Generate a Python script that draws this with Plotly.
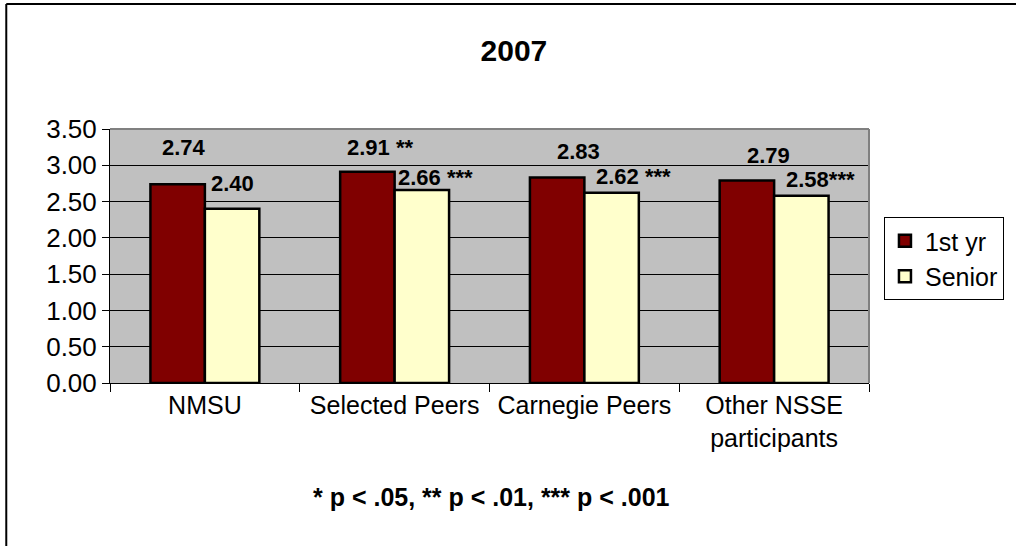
import plotly.graph_objects as go

# ---- data ----
categories = ["NMSU", "Selected Peers", "Carnegie Peers", "Other NSSE participants"]
tick_labels = ["NMSU", "Selected Peers", "Carnegie Peers", "Other NSSE<br>participants"]
first_yr = [2.74, 2.91, 2.83, 2.79]
senior = [2.40, 2.66, 2.62, 2.58]
first_sig = ["", "**", "", ""]
senior_sig = ["", "***", "***", "***"]
title_text = "2007"
footnote = "* p < .05, ** p < .01, *** p < .001"

# ---- style / layout (pixels) ----
W, H = 1016, 546
L, R, T, B = 110, 145, 129, 163
PW, PH = W - L - R, H - T - B

# label placement (pixel offsets: x from category centre to label's left edge, y above bar top)
first_dx = [-45, -50, -29, -29]
first_dy = [37, 24, 26, 25]
first_sep = ["", "\u00a0", "", ""]
senior_dx = [4, 1, 10, 10]
senior_dy = [25, 12, 16, 16]
senior_sep = ["", "\u00a0", "\u00a0", ""]

MAROON = "#800000"
CREAM = "#FFFFCC"
PLOT_BG = "#C0C0C0"
FONT = "Liberation Sans, Arial, sans-serif"


def px_x(p):
    return (p - L) / PW


def px_y(p):
    return (H - B - p) / PH


fig = go.Figure()
fig.add_trace(go.Bar(
    name="1st yr", x=categories, y=first_yr,
    marker=dict(color=MAROON, line=dict(color="black", width=2.5)),
))
fig.add_trace(go.Bar(
    name="Senior", x=categories, y=senior,
    marker=dict(color=CREAM, line=dict(color="black", width=2.5)),
))

annotations = []
for i, c in enumerate(categories):
    annotations.append(dict(
        x=c, y=first_yr[i], xref="x", yref="y",
        text=f"<b>{first_yr[i]:.2f}{first_sep[i]}{first_sig[i]}</b>",
        xanchor="left", yanchor="middle", showarrow=False,
        xshift=first_dx[i], yshift=first_dy[i],
        font=dict(size=22, color="black", family=FONT),
    ))
    annotations.append(dict(
        x=c, y=senior[i], xref="x", yref="y",
        text=f"<b>{senior[i]:.2f}{senior_sep[i]}{senior_sig[i]}</b>",
        xanchor="left", yanchor="middle", showarrow=False,
        xshift=senior_dx[i], yshift=senior_dy[i],
        font=dict(size=22, color="black", family=FONT),
    ))

annotations.append(dict(
    x=px_x(493), y=px_y(497), xref="paper", yref="paper",
    text=f"<b>{footnote}</b>", showarrow=False,
    xanchor="center", yanchor="middle",
    font=dict(size=25, color="black", family=FONT),
))

shapes = [
    # plot-area border (top and right, grey)
    dict(type="line", xref="paper", yref="paper", x0=0, x1=1, y0=1, y1=1,
         line=dict(color="#808080", width=2)),
    dict(type="line", xref="paper", yref="paper", x0=1, x1=1, y0=0, y1=1,
         line=dict(color="#808080", width=2)),
    # outer chart frame (left and top)
    dict(type="line", xref="paper", yref="paper", x0=px_x(6), x1=px_x(6),
         y0=px_y(H + 5), y1=px_y(4), line=dict(color="black", width=2)),
    dict(type="line", xref="paper", yref="paper", x0=px_x(6), x1=px_x(W + 5),
         y0=px_y(4), y1=px_y(4), line=dict(color="black", width=2)),
]

fig.update_layout(
    width=W, height=H,
    margin=dict(l=L, r=R, t=T, b=B, pad=0),
    paper_bgcolor="white", plot_bgcolor=PLOT_BG,
    font=dict(family=FONT, color="black", size=26),
    barmode="group", bargap=0.426, bargroupgap=0,
    title=dict(text=f"<b>{title_text}</b>", x=px_x(515), xref="paper",
               y=1 - 50 / H, yref="container", xanchor="center", yanchor="middle",
               font=dict(size=30, family=FONT, color="black")),
    legend=dict(x=px_x(886), y=px_y(217), xanchor="left", yanchor="top",
                bgcolor="white", bordercolor="black", borderwidth=1,
                font=dict(size=25, family=FONT, color="black"),
                itemclick=False),
    annotations=annotations,
    shapes=shapes,
    showlegend=True,
)

fig.update_xaxes(
    type="category", tickvals=categories, ticktext=tick_labels,
    tickson="boundaries", ticks="outside", ticklen=8, tickcolor="black",
    showline=True, linecolor="black", linewidth=1,
    tickfont=dict(size=25, family=FONT, color="black"),
    showgrid=False,
)
fig.update_yaxes(
    range=[0, 3.5], dtick=0.5, tickformat=".2f",
    ticks="outside", ticklen=7, tickcolor="black",
    showline=True, linecolor="black", linewidth=1,
    gridcolor="black", gridwidth=1, zeroline=False,
    tickfont=dict(size=26, family=FONT, color="black"),
)

fig.write_html(
    "out.html",
    config={"displayModeBar": False},
    post_script="document.body.style.margin='0';document.body.style.overflow='hidden';",
)
